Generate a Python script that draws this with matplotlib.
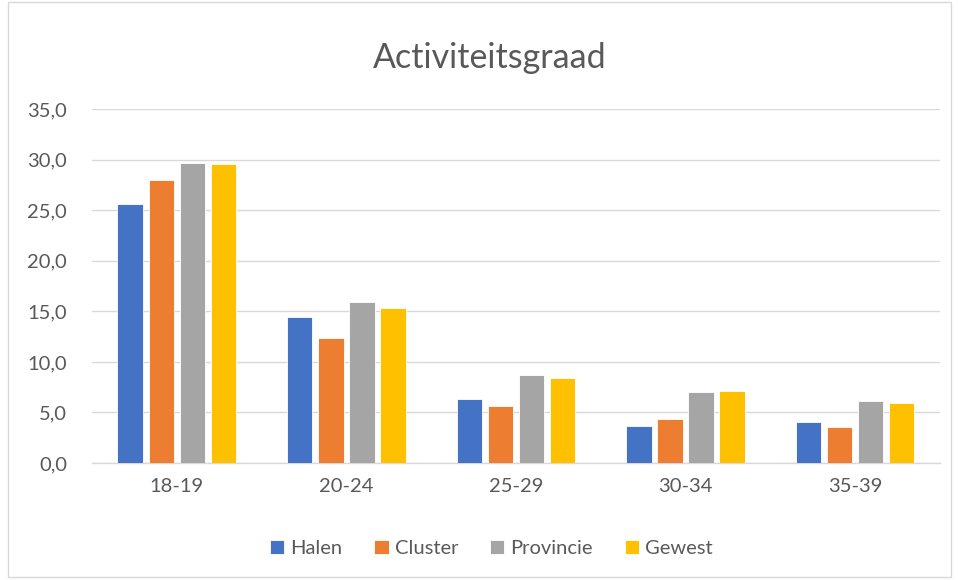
import numpy as np
import matplotlib.pyplot as plt
from matplotlib.ticker import FuncFormatter
from matplotlib.patches import Rectangle

plt.rcParams['font.family'] = ['Lato', 'DejaVu Sans']

categories = ['18-19', '20-24', '25-29', '30-34', '35-39']
halen = [25.6, 14.4, 6.3, 3.7, 4.1]
cluster = [28.0, 12.4, 5.6, 4.4, 3.55]
provincie = [29.7, 15.9, 8.7, 7.0, 6.1]
gewest = [29.55, 15.3, 8.4, 7.1, 5.95]

series = [('Halen', halen, '#4472C4'),
          ('Cluster', cluster, '#ED7D31'),
          ('Provincie', provincie, '#A5A5A5'),
          ('Gewest', gewest, '#FFC000')]

fig = plt.figure(figsize=(9.58, 5.8), dpi=100)
ax = fig.add_axes([0.096, 0.2017, 0.885, 0.6103])

x = np.arange(len(categories))
pitch = 0.183
width = 0.15
for i, (name, vals, col) in enumerate(series):
    ax.bar(x + (i - 1.5) * pitch, vals, width, color=col, label=name,
           edgecolor='white', linewidth=0.6, zorder=3)

ax.set_xlim(-0.5, len(categories) - 0.5)
ax.set_ylim(0, 35)
ax.set_yticks(np.arange(0, 36, 5))
ax.yaxis.set_major_formatter(FuncFormatter(lambda v, p: f'{v:.1f}'.replace('.', ',')))
ax.set_xticks(x)
ax.set_xticklabels(categories)
ax.grid(axis='y', color='#d9d9d9', linewidth=1, zorder=0)
for s in ['top', 'right', 'left']:
    ax.spines[s].set_visible(False)
ax.spines['bottom'].set_color('#d9d9d9')
ax.spines['bottom'].set_linewidth(1)
ax.tick_params(length=0, labelsize=14.5, labelcolor='#595959')
ax.tick_params(axis='x', pad=11)
ax.tick_params(axis='y', pad=18)

fig.text(0.511, 0.9, 'Activiteitsgraad', ha='center', va='center',
         fontsize=24.5, color='#595959')

fig.legend(loc='center', bbox_to_anchor=(0.513, 0.055), ncol=4, frameon=False,
           fontsize=14.5, labelcolor='#595959', handlelength=0.7, handleheight=0.7,
           handletextpad=0.3, columnspacing=1.6)

fig.patches.append(Rectangle((8 / 958, 3 / 580), 943 / 958, 575 / 580,
                             transform=fig.transFigure, fill=False,
                             edgecolor='#d9d9d9', linewidth=1))

fig.savefig('out.png', dpi=100)
